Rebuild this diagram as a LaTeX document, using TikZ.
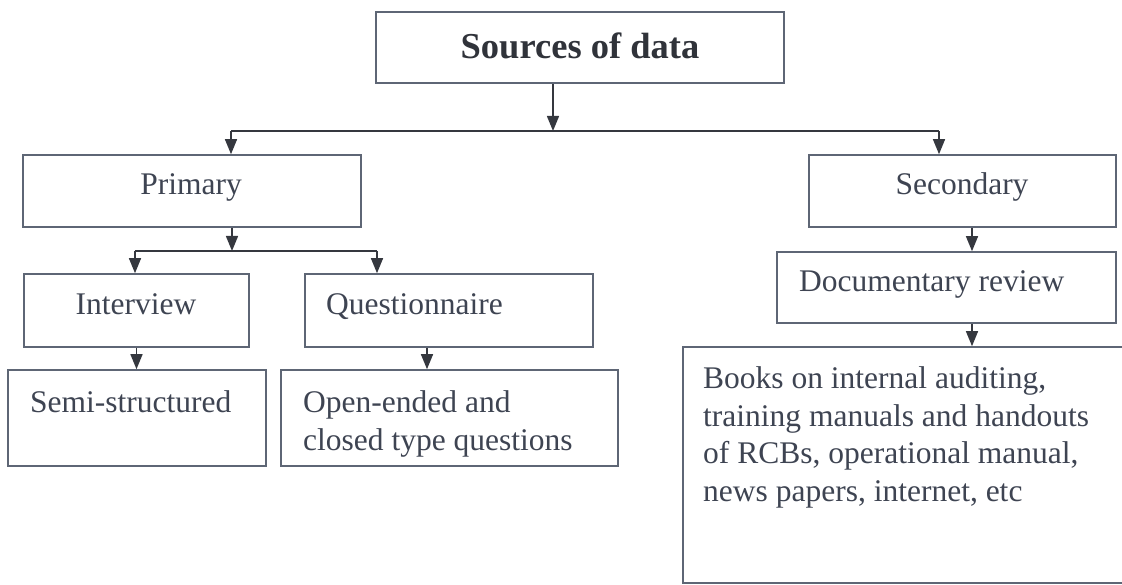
\documentclass[tikz,border=0pt]{standalone}
\usepackage{fontspec}
\setmainfont{Liberation Serif}
\usetikzlibrary{arrows.meta}
\definecolor{boxc}{HTML}{5E6675}
\definecolor{txtc}{HTML}{3E4452}
\definecolor{ttlc}{HTML}{30333A}
\definecolor{arrc}{HTML}{35383F}
\begin{document}
\begin{tikzpicture}[x=1pt,y=-1pt,
  box/.style={draw=boxc, line width=1.6pt, inner sep=0pt},
  txt/.style={inner sep=0pt, text=txtc, font=\fontsize{31.5}{37.5}\selectfont, align=left},
  ttl/.style={inner sep=0pt, text=ttlc, font=\fontsize{36.5}{40}\selectfont\bfseries},
  conn/.style={draw=arrc, line width=1.4pt},
  arr/.style={conn, -{Triangle[length=15pt,width=12pt]}}]
\useasboundingbox (0,0) rectangle (1122,585);

% boxes
\node[box, minimum width=408pt, minimum height=71pt] (src) at (580,47.5) {};
\node[box, minimum width=338pt, minimum height=72pt] (pri) at (192,191) {};
\node[box, minimum width=307pt, minimum height=72pt] (sec) at (962.5,191) {};
\node[box, minimum width=225pt, minimum height=73pt] (int) at (136.5,310.5) {};
\node[box, minimum width=288pt, minimum height=73pt] (que) at (449,310.5) {};
\node[box, minimum width=339pt, minimum height=71pt] (doc) at (946.5,287.5) {};
\node[box, minimum width=258pt, minimum height=96pt] (semi) at (137,418) {};
\node[box, minimum width=337pt, minimum height=96pt] (open) at (449.5,418) {};
\node[box, minimum width=447pt, minimum height=236pt] (books) at (906.5,465) {};

% texts
\node[ttl, anchor=base] (src-t) at (580,59) {Sources of data};
\node[txt, anchor=base] (pri-t) at (191,195) {Primary};
\node[txt, anchor=base] (sec-t) at (962,195) {Secondary};
\node[txt, anchor=base] (int-t) at (136,315) {Interview};
\node[txt, anchor=base west] (que-t) at (326,315) {Questionnaire};
\node[txt, anchor=base west] (doc-t) at (799,292) {Documentary review};
\node[txt, anchor=base west] (semi-t) at (30,412) {Semi-structured};
\node[txt, anchor=north west] (open-t) at (303,390.5) {Open-ended and\\closed type questions};
\node[txt, anchor=north west] (books-t) at (703,366.5) {Books on internal auditing,\\training manuals and handouts\\of RCBs, operational manual,\\news papers, internet, etc};

% junctions
\coordinate (j0) at (553,131);
\coordinate (jl) at (231,131);
\coordinate (jr) at (939,131);
\coordinate (j1) at (232,251);
\coordinate (j1l) at (135,251);
\coordinate (j1r) at (377,251);
\coordinate (c2) at (427,0);
\coordinate (c3) at (972,0);

% connectors
\draw[arr] (src.south -| j0) -- (j0);
\draw[conn] (jl) -- (jr);
\draw[arr] (jl) -- (jl |- pri.north);
\draw[arr] (jr) -- (jr |- sec.north);
\draw[arr] (pri.south -| j1) -- (j1);
\draw[conn] (j1l) -- (j1r);
\draw[arr] (j1l) -- (j1l |- int.north);
\draw[arr] (j1r) -- (j1r |- que.north);
\draw[arr] (int.south) -- (int.south |- semi.north);
\draw[arr] (que.south -| c2) -- (open.north -| c2);
\draw[arr] (sec.south -| c3) -- (doc.north -| c3);
\draw[arr] (doc.south -| c3) -- (books.north -| c3);
\end{tikzpicture}
\end{document}
